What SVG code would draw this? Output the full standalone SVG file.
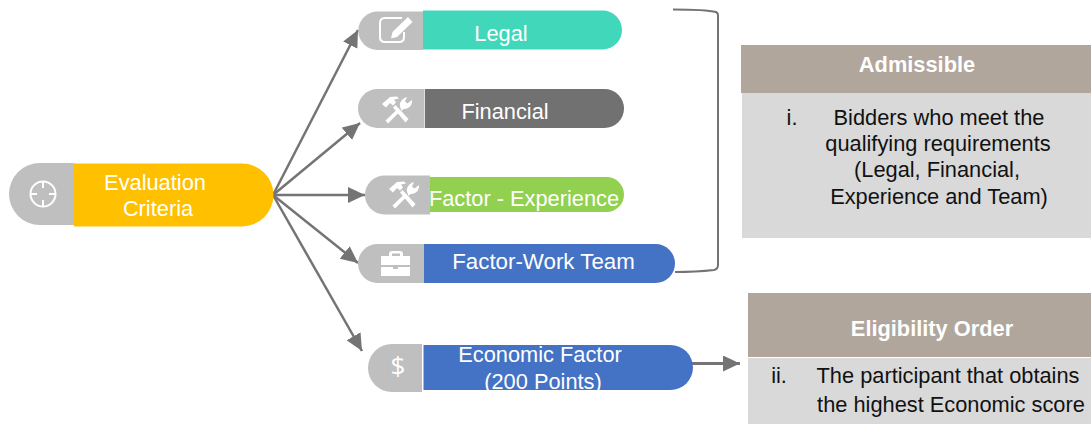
<svg xmlns="http://www.w3.org/2000/svg" width="1091" height="424" viewBox="0 0 1091 424">
<style>
text{font-family:"Liberation Sans",Arial,sans-serif;font-size:21.8px;text-anchor:middle}
.w{fill:#fff}.k{fill:#111}
.b{font-weight:bold;fill:#fff}
.g{fill:#bfbfbf}
.i{fill:none;stroke:#fff;stroke-width:2}
.s{fill:#fff}
.c{fill:none;stroke:#747474;stroke-width:2.5}
.hd{fill:#b1a69b}.bd{fill:#d9d9d9}
</style>
<defs>
<marker id="a" markerUnits="userSpaceOnUse" markerWidth="18" markerHeight="18" refX="17" refY="8" orient="auto"><path d="M0 0L17 8L0 16Z" fill="#747474"/></marker>
<g id="tools">
<path class="s" d="M-15-6L-7-13L0-13.500L2-11.500L-3-10.500L-1-7.500L-4-4.500L-7-7L-11-2.500Z"/>
<path class="s" d="M-4-2.500L-1.500-5L11.500 9L8.500 12.500Z"/>
<path class="s" d="M-11.500 10.500L0-0.500L2.500 2L-9 13.500ZM3-3.500C2-8 6-12 10-13L8-8.500L10.500-6.500L15-10C15.500-4.500 11.500-0.500 6.500-1L4.500 1Z"/>
</g>
</defs>
<g id="connectors" class="c">
<path d="M273 195L358 30" marker-end="url(#a)"/>
<path d="M273 195L360 123" marker-end="url(#a)"/>
<path d="M273 195L365 195" marker-end="url(#a)"/>
<path d="M273 195L358 263" marker-end="url(#a)"/>
<path d="M273 195L362 351" marker-end="url(#a)"/>
<path d="M675 363.500H740" stroke-width="3" marker-end="url(#a)"/>
<path d="M673 9.500C690 9.500 708 10 716 12Q718 13 718 15V265Q718 269 714 270C705 271 690 272 675 272" stroke-width="2"/>
</g>
<g id="evaluation">
<path class="g" d="M74 163H40A31 31 0 0 0 40 225H74Z"/>
<path fill="#ffc000" d="M74 163.500H242A31.500 31.500 0 0 1 242 226.500H74Z"/>
<circle class="i" cx="43" cy="194" r="12.500"/>
<path class="i" d="M43 181V188M43 200V207M30 194H37M49 194H56"/>
<text class="w" x="155" y="190">Evaluation</text>
<text class="w" x="158" y="216">Criteria</text>
</g>
<g id="legal">
<path class="g" d="M423 11.500H377.500A19.250 19.250 0 0 0 377.500 50H423Z"/>
<path fill="#40d7bb" d="M423 10.500H602.500A19.500 19.500 0 0 1 602.500 49.500H423Z"/>
<path class="i" d="M402 18H385Q380 18 380 23V37Q380 42 385 42H399Q404 42 404 37V32"/>
<path class="s" d="M408 17L412.500 22L397 37L391 38.500L392.500 32Z"/>
<text class="w" x="501" y="41">Legal</text>
</g>
<g id="financial">
<path class="g" d="M424.500 89H377.500A19.500 19.500 0 0 0 377.500 128H424.500Z"/>
<path fill="#717171" d="M425 89H604.500A19.500 19.500 0 0 1 604.500 128H425Z"/>
<use href="#tools" x="397" y="110"/>
<text class="w" x="505" y="119">Financial</text>
</g>
<g id="experience">
<path class="g" d="M430 175.500H384.500A19.500 19.500 0 0 0 384.500 214.500H430Z"/>
<path fill="#92d050" d="M430 177H606.500A17.500 17.500 0 0 1 606.500 212H430Z"/>
<use href="#tools" x="404" y="195"/>
<text class="w" x="524" y="206">Factor - Experience</text>
</g>
<g id="work-team">
<path class="g" d="M424 244H377.500A19.500 19.500 0 0 0 377.500 283H424Z"/>
<path fill="#4472c4" d="M424 244H655.500A19.500 19.500 0 0 1 655.500 283H424Z"/>
<path class="s" d="M381 256H389V254Q389 251 392 251H400Q403 251 403 254V256H410V265H381ZM392 256H400V253.500H392ZM381 267H393V269H398V267H410V276H381Z"/>
<text class="w" x="543.500" y="269" style="font-size:22.300px">Factor-Work Team</text>
</g>
<g id="economic">
<path class="g" d="M422 344H392A24 24 0 0 0 392 392H422Z"/>
<path fill="#4472c4" d="M423.500 345H670.500A22.500 22.500 0 0 1 670.500 390H423.500Z"/>
<text x="398" y="375" style="font-size:26px;font-family:'Open Sans','Liberation Sans',sans-serif" class="w">$</text>
<text class="w" x="540" y="362">Economic Factor</text>
<text class="w" x="543" y="389">(200 Points)</text>
</g>
<g id="admissible">
<rect class="hd" x="741" y="45" width="350" height="48"/>
<rect class="bd" x="742" y="93" width="349" height="145"/>
<text class="b" x="917" y="72">Admissible</text>
<text class="k" x="792" y="125">i.</text>
<text class="k" x="939" y="125">Bidders who meet the</text>
<text class="k" x="938" y="151">qualifying requirements</text>
<text class="k" x="937" y="177">(Legal, Financial,</text>
<text class="k" x="939" y="204">Experience and Team)</text>
</g>
<g id="eligibility">
<rect class="hd" x="748" y="293" width="343" height="64"/>
<rect class="bd" x="748" y="358" width="343" height="66"/>
<text class="b" x="932" y="336">Eligibility Order</text>
<text class="k" x="779" y="383">ii.</text>
<text class="k" x="948" y="383">The participant that obtains</text>
<text class="k" x="951" y="412">the highest Economic score</text>
</g>
</svg>
